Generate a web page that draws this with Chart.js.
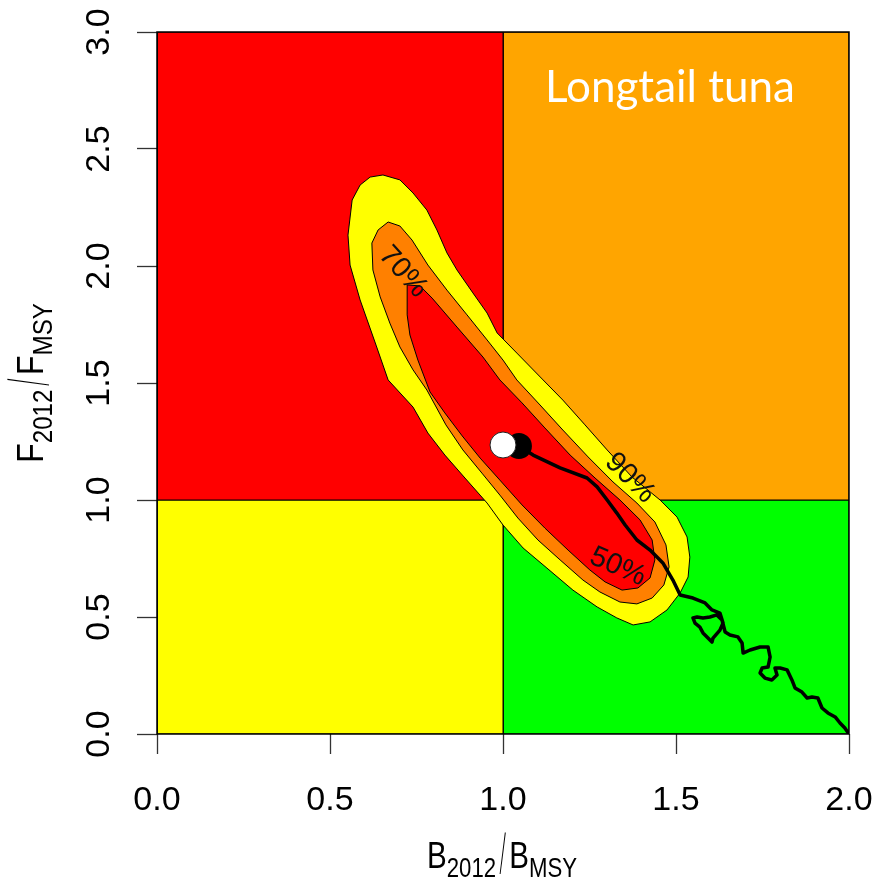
<!DOCTYPE html>
<html><head><meta charset="utf-8">
<script src="https://cdn.jsdelivr.net/npm/chart.js@4.4.0/dist/chart.umd.min.js"></script>
<style>html,body{margin:0;padding:0;background:#fff;}canvas{display:block;}</style>
</head><body>
<canvas id="c" width="874" height="884"></canvas>
<script>
// ---------- data ----------
const xTickValues = [0, 0.5, 1, 1.5, 2];
const xTickLabels = ['0.0', '0.5', '1.0', '1.5', '2.0'];
const yTickValues = [0, 0.5, 1, 1.5, 2, 2.5, 3];
const yTickLabels = ['0.0', '0.5', '1.0', '1.5', '2.0', '2.5', '3.0'];

// Kobe quadrants [B, F] corners
const quadRed    = [[0,1],[1,1],[1,3],[0,3]];
const quadOrange = [[1,1],[2,1],[2,3],[1,3]];
const quadYellow = [[0,0],[1,0],[1,1],[0,1]];
const quadGreen  = [[1,0],[2,0],[2,1],[1,1]];

// probability contours [B, F]
const contour90 = [[0.616,2.380],[0.653,2.389],[0.702,2.368],[0.740,2.312],[0.780,2.239],[0.809,2.154],[0.838,2.056],[0.867,1.983],[0.913,1.885],[0.954,1.799],[0.983,1.714],[1.040,1.628],[1.116,1.513],[1.173,1.427],[1.237,1.321],[1.301,1.214],[1.373,1.098],[1.454,1.000],[1.503,0.927],[1.532,0.842],[1.540,0.756],[1.535,0.671],[1.512,0.603],[1.474,0.530],[1.425,0.479],[1.376,0.466],[1.329,0.496],[1.272,0.543],[1.202,0.615],[1.127,0.709],[1.058,0.795],[1.000,0.893],[0.954,0.987],[0.890,1.094],[0.832,1.192],[0.783,1.286],[0.740,1.397],[0.668,1.513],[0.633,1.662],[0.587,1.855],[0.558,2.004],[0.552,2.132],[0.564,2.282],[0.587,2.346]];
const contour70 = [[0.621,2.098],[0.639,2.154],[0.668,2.188],[0.702,2.171],[0.737,2.111],[0.783,2.004],[0.838,1.897],[0.896,1.791],[0.954,1.684],[1.000,1.598],[1.040,1.513],[1.107,1.406],[1.173,1.299],[1.246,1.184],[1.318,1.077],[1.387,0.987],[1.439,0.906],[1.471,0.808],[1.480,0.714],[1.465,0.637],[1.431,0.581],[1.387,0.556],[1.338,0.564],[1.280,0.607],[1.231,0.658],[1.165,0.744],[1.101,0.829],[1.043,0.923],[0.991,1.021],[0.939,1.115],[0.884,1.214],[0.835,1.321],[0.780,1.470],[0.740,1.556],[0.702,1.654],[0.673,1.756],[0.645,1.868],[0.624,1.983]];
const contour50 = [[0.723,1.919],[0.760,1.915],[0.795,1.863],[0.867,1.739],[0.942,1.611],[0.991,1.513],[1.055,1.415],[1.121,1.308],[1.194,1.192],[1.266,1.094],[1.338,1.000],[1.396,0.915],[1.431,0.829],[1.439,0.744],[1.425,0.667],[1.390,0.624],[1.344,0.615],[1.295,0.650],[1.251,0.701],[1.188,0.786],[1.121,0.880],[1.055,0.979],[0.991,1.085],[0.934,1.179],[0.882,1.274],[0.832,1.372],[0.789,1.462],[0.754,1.598],[0.731,1.705],[0.723,1.791]];

// stock trajectory [B, F], oldest -> latest
const trajectory = [[2.000,0.000],[1.988,0.026],[1.974,0.047],[1.960,0.073],[1.939,0.090],[1.922,0.111],[1.910,0.154],[1.893,0.158],[1.879,0.154],[1.864,0.179],[1.844,0.197],[1.835,0.231],[1.821,0.274],[1.801,0.282],[1.786,0.282],[1.792,0.252],[1.777,0.231],[1.757,0.239],[1.743,0.261],[1.749,0.282],[1.766,0.286],[1.772,0.329],[1.766,0.372],[1.743,0.372],[1.714,0.359],[1.694,0.346],[1.691,0.389],[1.679,0.415],[1.656,0.423],[1.642,0.436],[1.633,0.487],[1.618,0.509],[1.598,0.500],[1.578,0.496],[1.561,0.500],[1.549,0.496],[1.555,0.474],[1.569,0.457],[1.578,0.432],[1.604,0.393],[1.607,0.410],[1.627,0.444],[1.636,0.474],[1.627,0.517],[1.604,0.530],[1.584,0.560],[1.549,0.581],[1.512,0.594],[1.491,0.658],[1.462,0.731],[1.425,0.786],[1.387,0.829],[1.353,0.893],[1.329,0.944],[1.301,1.000],[1.272,1.056],[1.243,1.094],[1.165,1.137],[1.087,1.192],[1.046,1.231]];
const latestPoint = [1.046, 1.231];
const altPoint = [1.000, 1.235];

const contourLabelText = ['70%', '90%', '50%'];
const contourLabelPos = [[0.711,1.974],[1.367,1.094],[1.332,0.714]];
const speciesTitle = 'Longtail tuna';

// ---------- helpers ----------
const pts = (arr, close) => {
  const p = arr.map(([x, y]) => ({x, y}));
  if (close) p.push({x: arr[0][0], y: arr[0][1]});
  return p;
};
const FONT = '"Liberation Sans", Arial, sans-serif';

function polyDS(arr, color, order, bw) {
  return {data: pts(arr, true), fill: 'shape', backgroundColor: color, borderColor: '#000',
          borderWidth: bw, pointRadius: 0, order: order, tension: 0};
}

function drawRatio(ctx, parts, targetWidth) {
  let total = 0;
  parts.forEach(p => {
    if (p.slash) { p.w0 = p.w; }
    else { ctx.font = p.size + 'px ' + FONT; p.w0 = ctx.measureText(p.t).width; }
    total += p.w0;
  });
  const sx = targetWidth / total;
  ctx.save();
  ctx.scale(sx, 1);
  let cx = 0;
  parts.forEach(p => {
    if (p.slash) {
      ctx.save();
      ctx.font = '200 30px Inter, ' + FONT;
      const m = ctx.measureText('/');
      const asc = m.actualBoundingBoxAscent, desc = m.actualBoundingBoxDescent;
      const h = asc + desc;
      const sy = p.h / h;
      ctx.translate(cx + p.w / 2, p.bottom);
      ctx.scale(0.9, sy);
      ctx.textAlign = 'center';
      ctx.textBaseline = 'alphabetic';
      ctx.fillText('/', 0, -desc);
      ctx.restore();
    } else {
      ctx.font = p.size + 'px ' + FONT;
      ctx.textAlign = 'left';
      ctx.textBaseline = 'alphabetic';
      ctx.fillText(p.t, cx, p.dy);
    }
    cx += p.w0;
  });
  ctx.restore();
}

const decor = {
  id: 'decor',
  afterDraw(chart) {
    const ctx = chart.ctx, a = chart.chartArea;
    const xs = chart.scales.x, ys = chart.scales.y;
    ctx.save();
    // contour labels
    const angles = [48, 45, 24];
    contourLabelText.forEach((t, i) => {
      const px = xs.getPixelForValue(contourLabelPos[i][0]);
      const py = ys.getPixelForValue(contourLabelPos[i][1]);
      ctx.save();
      ctx.translate(px, py);
      ctx.rotate(angles[i] * Math.PI / 180);
      ctx.font = '29px ' + FONT;
      ctx.fillStyle = '#111';
      ctx.textAlign = 'center';
      ctx.textBaseline = 'middle';
      ctx.fillText(t, 0, 0);
      ctx.restore();
    });
    // box
    ctx.strokeStyle = '#000';
    ctx.lineWidth = 1.5;
    ctx.strokeRect(a.left, a.top, a.right - a.left, a.bottom - a.top);
    // species title
    ctx.font = '100px Lato, "Open Sans", sans-serif';
    const w100 = ctx.measureText(speciesTitle).width;
    const fs = 100 * 250 / w100;
    ctx.font = fs.toFixed(1) + 'px Lato, "Open Sans", sans-serif';
    ctx.fillStyle = '#fff';
    ctx.textAlign = 'left';
    ctx.textBaseline = 'alphabetic';
    ctx.fillText(speciesTitle, 545, 102);
    // axis titles
    ctx.fillStyle = '#000';
    ctx.save();
    ctx.translate(427, 868);
    drawRatio(ctx, [
      {t: 'B', size: 36, dy: 0},
      {t: '2012', size: 27, dy: 9},
      {slash: true, w: 16, h: 43, bottom: 7},
      {t: 'B', size: 36, dy: 0},
      {t: 'MSY', size: 27, dy: 9}
    ], 150);
    ctx.restore();
    ctx.save();
    ctx.translate(43, 463);
    ctx.rotate(-Math.PI / 2);
    drawRatio(ctx, [
      {t: 'F', size: 36, dy: 0},
      {t: '2012', size: 27, dy: 9},
      {slash: true, w: 16, h: 43, bottom: 7},
      {t: 'F', size: 36, dy: 0},
      {t: 'MSY', size: 27, dy: 9}
    ], 160);
    ctx.restore();
    ctx.restore();
  }
};

const tickFont = {family: FONT, size: 34};
const gridOpts = {drawOnChartArea: false, drawTicks: true, tickLength: 20, tickColor: '#333', tickWidth: 1.3};

new Chart(document.getElementById('c'), {
  type: 'line',
  data: {
    datasets: [
      polyDS(quadRed, '#FF0000', 20, 1),
      polyDS(quadOrange, '#FFA500', 20, 1),
      polyDS(quadYellow, '#FFFF00', 20, 1),
      polyDS(quadGreen, '#00FF00', 20, 1),
      polyDS(contour90, '#FFFF00', 13, 1),
      polyDS(contour70, '#FF8000', 12, 1),
      polyDS(contour50, '#FF0000', 11, 1),
      {data: pts(trajectory, false), borderColor: '#000', borderWidth: 3.5, fill: false, pointRadius: 0,
       borderJoinStyle: 'round', borderCapStyle: 'round', order: 5, tension: 0},
      {data: pts([latestPoint], false), showLine: false, pointRadius: 13, pointBackgroundColor: '#000',
       pointBorderColor: '#000', pointBorderWidth: 0, order: 2},
      {data: pts([altPoint], false), showLine: false, pointRadius: 13, pointBackgroundColor: '#fff',
       pointBorderColor: '#222', pointBorderWidth: 1, order: 1}
    ]
  },
  options: {
    responsive: false,
    animation: false,
    devicePixelRatio: 1,
    layout: {padding: {top: 32, right: 25, left: 0, bottom: 0}},
    plugins: {legend: {display: false}, tooltip: {enabled: false}},
    scales: {
      x: {
        type: 'linear', min: 0, max: 2,
        afterFit: s => { s.height = 150; s.paddingLeft = 0; s.paddingRight = 0; },
        afterBuildTicks: s => { s.ticks = xTickValues.map(v => ({value: v})); },
        ticks: {callback: (v, i) => xTickLabels[i], font: tickFont, color: '#000', padding: 26,
                minRotation: 0, maxRotation: 0, autoSkip: false},
        grid: gridOpts,
        border: {display: false}
      },
      y: {
        type: 'linear', min: 0, max: 3,
        afterFit: s => { s.width = 157; s.paddingTop = 0; s.paddingBottom = 0; },
        afterBuildTicks: s => { s.ticks = yTickValues.map(v => ({value: v})); },
        ticks: {callback: (v, i) => yTickLabels[i], font: tickFont, color: '#000', padding: 14,
                minRotation: 90, maxRotation: 90, crossAlign: 'center', autoSkip: false},
        grid: gridOpts,
        border: {display: false}
      }
    }
  },
  plugins: [decor]
});
</script>
</body></html>
